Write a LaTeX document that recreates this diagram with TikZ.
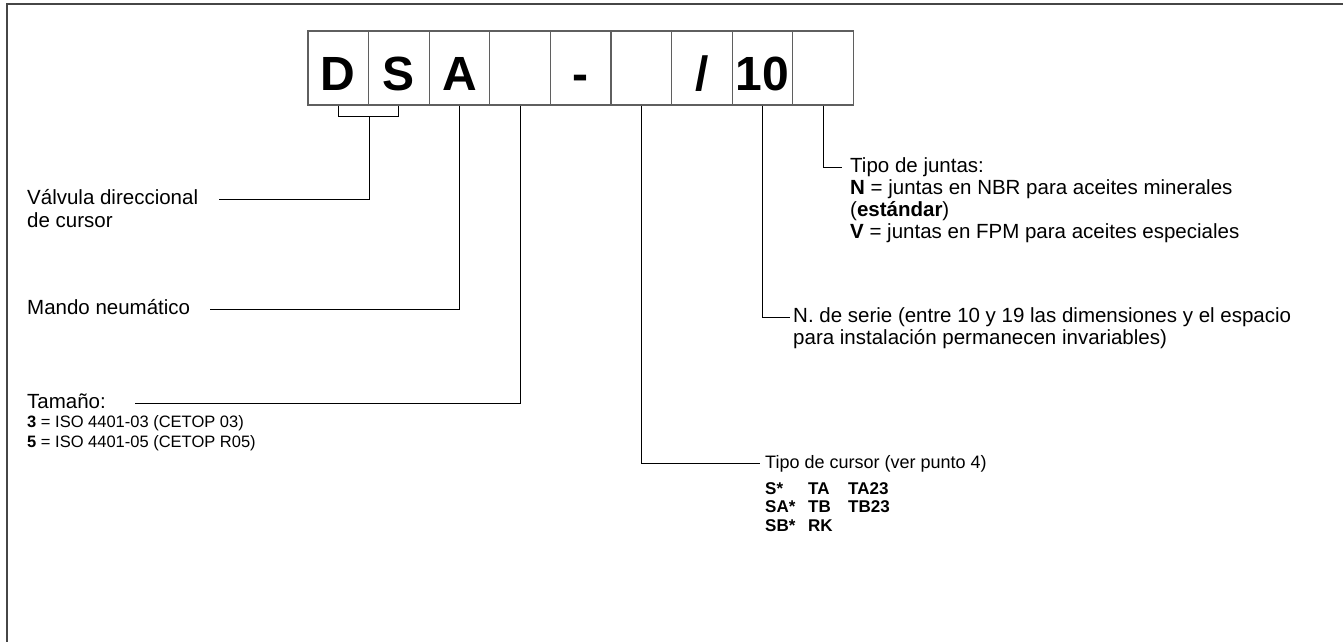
\documentclass[tikz,border=0pt]{standalone}
\usepackage{fontspec}
\setmainfont{Liberation Sans}
\usepackage{tikz}
\usetikzlibrary{positioning}
\definecolor{framegray}{RGB}{70,70,70}
\definecolor{cellgray}{RGB}{95,95,95}
\newcommand{\rowstrut}[1]{\rule[-.3\dimexpr#1\relax]{0pt}{#1}}

\begin{document}
\begin{tikzpicture}[
    x=1pt, y=-1pt,
    cell/.style={draw=cellgray, line width=1.3pt, minimum width=60.6pt, minimum height=74pt, inner sep=0pt, text height=44pt, text depth=0pt, font=\fontsize{48}{48}\selectfont\bfseries},
    heading/.style={anchor=west, inner sep=0pt, text height=14pt, text depth=4pt, font=\fontsize{20.5}{23}\selectfont},
    detail/.style={anchor=north west, inner sep=0pt, font=\fontsize{20.5}{22}\selectfont},
    subtext/.style={anchor=north west, inner sep=0pt, font=\fontsize{16.5}{19}\selectfont},
    curlist/.style={anchor=north west, inner sep=0pt, font=\fontsize{17}{16.5}\selectfont\bfseries},
    conn/.style={draw=black, line width=0.9pt},
    frame/.style={draw=framegray, line width=2pt}
]
\useasboundingbox (0,0) rectangle (1343,642);
\draw[frame] (1343,4) -- (7,4) -- (7,642);

\foreach \i/\t in {1/D,2/S,3/A,4/{},5/-,6/{},7/{/},8/10,9/{}}
  \node[cell] (c\i) at ({308+60.6*(\i-0.5)},68) {\t};

\node[heading] (valv) at (27,199) {Válvula direccional};
\node[below=2.9pt of valv.south west, detail] (valv2) {\rowstrut{23pt}de cursor};
\node[heading] (mando) at (27,309) {Mando neumático};
\node[heading] (tam) at (27,403) {Tamaño:};
\node[below=1pt of tam.south west, subtext] (tamopt) {%
  \begin{tabular}{@{}l@{}}
  \rowstrut{20pt}\textbf{3} = ISO 4401-03 (CETOP 03)\\
  \rowstrut{20pt}\textbf{5} = ISO 4401-05 (CETOP R05)
  \end{tabular}};

\node[heading] (junt) at (850,167) {Tipo de juntas:};
\node[below=2.6pt of junt.south west, detail] (juntopt) {%
  \begin{tabular}{@{}l@{}}
  \rowstrut{22pt}\textbf{N} = juntas en NBR para aceites minerales\\
  \rowstrut{22pt}(\textbf{estándar})\\
  \rowstrut{22pt}\textbf{V} = juntas en FPM para aceites especiales
  \end{tabular}};
\node[heading] (serie) at (793,317) {N. de serie (entre 10 y 19 las dimensiones y el espacio};
\node[below=2.6pt of serie.south west, detail] (serie2) {\rowstrut{22pt}para instalación permanecen invariables)};
\node[heading, font=\fontsize{18}{20}\selectfont] (cur) at (765,463) {Tipo de cursor (ver punto 4)};
\node[below=9pt of cur.south west, curlist] (curopt) {%
  \begin{tabular}{@{}p{43pt}@{}p{40pt}@{}l@{}}
  \rowstrut{18.5pt}S* & TA & TA23\\
  \rowstrut{18.5pt}SA* & TB & TB23\\
  \rowstrut{18.5pt}SB* & RK &
  \end{tabular}};

\coordinate (ds) at ([yshift=-11pt]c1.south east);
\draw[conn] (c1.south) -- ++(0,11) -| (c2.south);
\draw[conn] (ds) |- ([xshift=21pt]valv.east);
\draw[conn] (c3.south) |- ([xshift=20pt]mando.east);
\draw[conn] (c4.south) |- ([xshift=29pt]tam.east);
\draw[conn] (c6.south) |- ([xshift=-5pt]cur.west);
\draw[conn] (c8.south) |- ([xshift=-3pt]serie.west);
\draw[conn] (c9.south) |- ([xshift=-8pt]junt.west);
\end{tikzpicture}
\end{document}
